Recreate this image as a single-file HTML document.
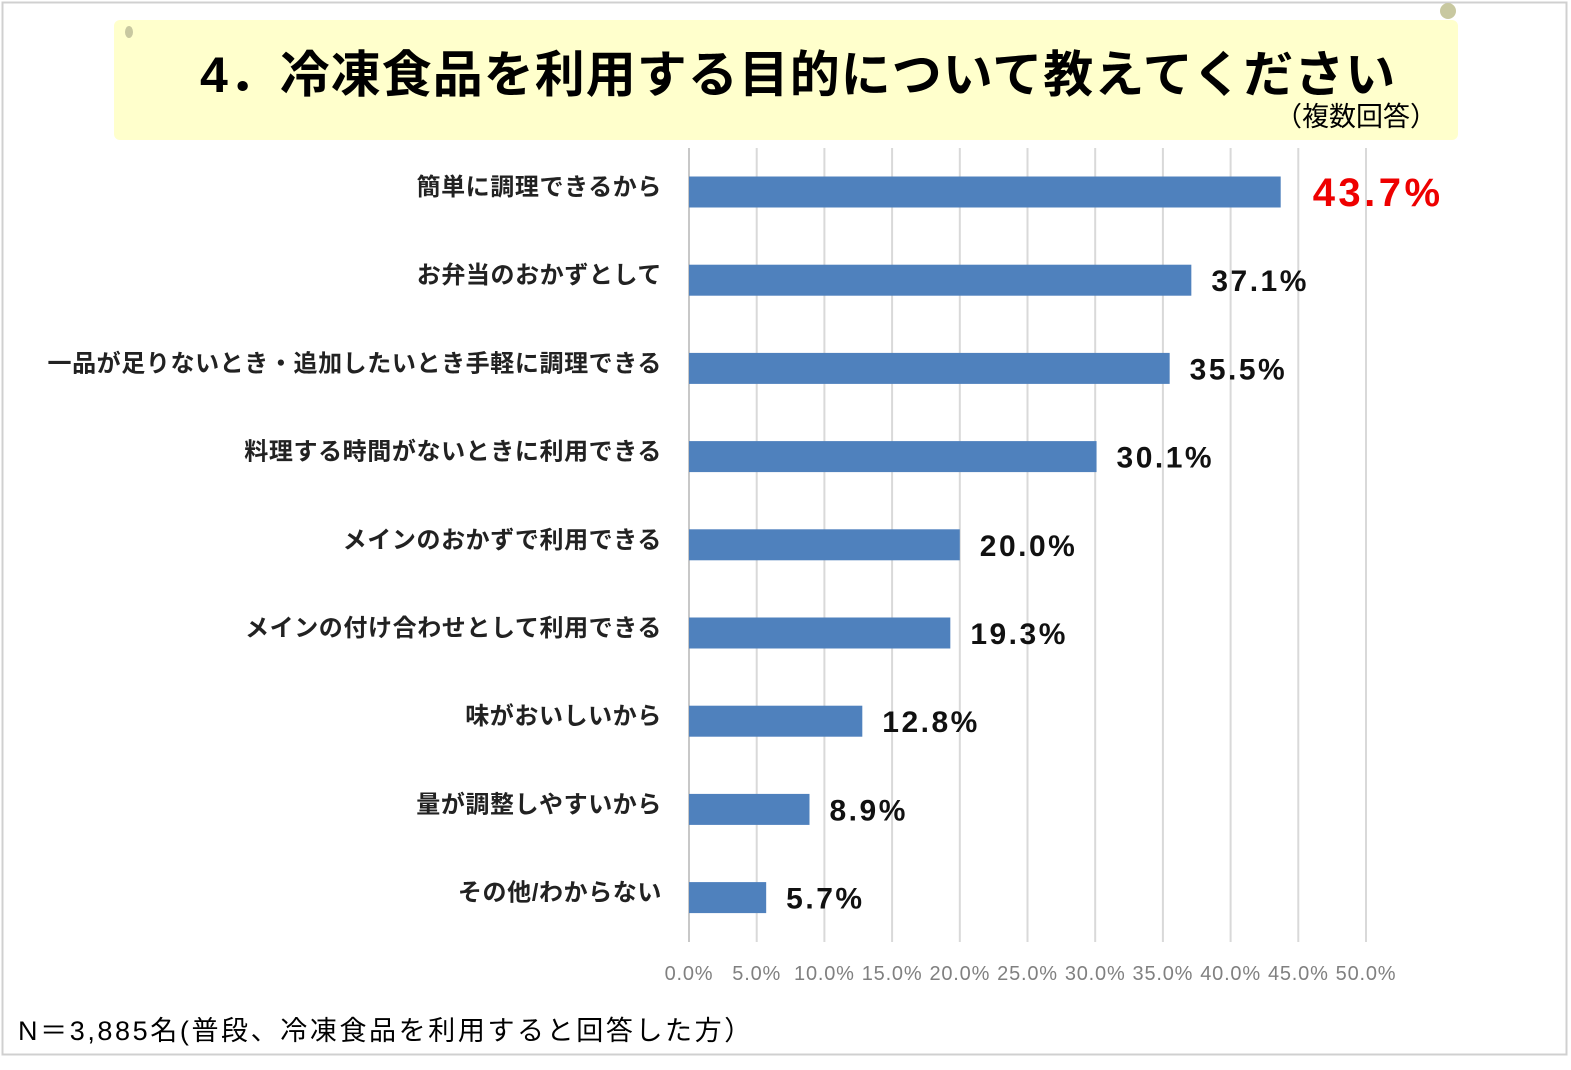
<!DOCTYPE html>
<html><head><meta charset="utf-8">
<style>
body{margin:0;background:#fff;font-family:"Liberation Sans","Noto Sans CJK JP",sans-serif;}
#wrap{position:relative;width:1571px;height:1070px;overflow:hidden;}
</style></head>
<body>
<div id="wrap">
<svg id="svg" width="1571" height="1070" xmlns="http://www.w3.org/2000/svg">
  <rect x="2.5" y="2.5" width="1564" height="1052" fill="#fff" stroke="#d0d0d0" stroke-width="2"/>
  <rect x="114" y="20" width="1344" height="120" rx="6" fill="#ffffcc"/>
  <ellipse cx="129" cy="32" rx="4" ry="6" fill="#c8c8a0"/>
  <circle cx="1448" cy="11" r="8" fill="#c8c8a0"/>
  <text x="200" y="92" font-size="50" font-weight="bold" letter-spacing="1" fill="#000">4．冷凍食品を利用する目的について教えてください</text>
  <text x="1437" y="126" font-size="27" fill="#000" text-anchor="end">（複数回答）</text>
  <g id="grid"></g>
  <g id="bars"></g>
  <text x="18" y="1040" font-size="27" letter-spacing="2.6" fill="#000">N＝3,885名(普段、冷凍食品を利用すると回答した方）</text>
</svg>
</div>
<script>
const categories=["簡単に調理できるから","お弁当のおかずとして","一品が足りないとき・追加したいとき手軽に調理できる","料理する時間がないときに利用できる","メインのおかずで利用できる","メインの付け合わせとして利用できる","味がおいしいから","量が調整しやすいから","その他/わからない"];
const values=[43.7,37.1,35.5,30.1,20.0,19.3,12.8,8.9,5.7];
const ticks=[0,5,10,15,20,25,30,35,40,45,50];
const NS="http://www.w3.org/2000/svg";
const x0=689,x1=1366,xmax=50;
const xs=v=>x0+(v/xmax)*(x1-x0);
const yTop=148,rowH=88.2,barH=31;
const yc=i=>192+i*rowH;
const grid=document.getElementById('grid'),bars=document.getElementById('bars');
function mk(tag,attrs,parent){const e=document.createElementNS(NS,tag);for(const k in attrs)e.setAttribute(k,attrs[k]);parent.appendChild(e);return e;}
ticks.forEach(t=>{
  const l=mk('line',{x1:xs(t),x2:xs(t),y1:yTop,y2:942,stroke:t===0?'#c8c8c8':'#d9d9d9','stroke-width':2},grid);
  
  
  const tx=mk('text',{x:xs(t),y:980,'font-size':20,'letter-spacing':0.8,fill:'#808080','text-anchor':'middle'},grid);
  tx.textContent=t.toFixed(1)+'%';
  
  
});
values.forEach((v,i)=>{
  const r=mk('rect',{x:x0,y:yc(i)-barH/2,width:xs(v)-x0,height:barH,fill:'#4f81bd'},bars);
  
  
  const c=mk('text',{x:662,y:yc(i)+3,'font-size':24,'letter-spacing':0.6,'font-weight':'bold',fill:'#222','text-anchor':'end'},bars);
  c.textContent=categories[i];
  
  
  const big=i===0;
  const t=mk('text',{x:xs(v)+(big?32:20),y:yc(i)+(big?14:11),'font-size':big?40:30,'letter-spacing':big?3.5:2.5,'font-weight':'bold',fill:big?'#ee0000':'#111'},bars);
  t.textContent=v.toFixed(1)+'%';
  
  
});
</script>
</body></html>
